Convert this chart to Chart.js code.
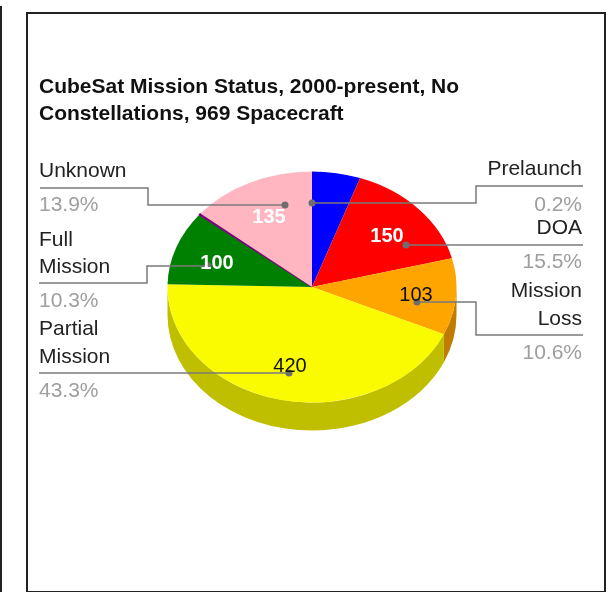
<!DOCTYPE html>
<html>
<head>
<meta charset="utf-8">
<title>CubeSat Mission Status</title>
<script src="https://cdn.jsdelivr.net/npm/chart.js@4"></script>
<style>
  html, body { margin: 0; padding: 0; background: #fff; overflow: hidden; }
  #wrap { position: relative; width: 613px; height: 592px; }
  #stub { position: absolute; left: 0; top: 6px; width: 2px; height: 586px; background: #222; }
  #frame { position: absolute; left: 26px; top: 12px; width: 576px; height: 577px; border: 2px solid #222; }
  canvas { position: absolute; left: 0; top: 0; }
</style>
</head>
<body>
<div id="wrap">
  <div id="stub"></div>
  <div id="frame"></div>
  <canvas id="missionChart" width="613" height="592"></canvas>
</div>
<script>
const categories = ['Operating', 'DOA', 'Mission Loss', 'Partial Mission', 'Full Mission', 'Prelaunch', 'Unknown'];
const spacecraft = [52, 150, 103, 420, 100, 2, 135];
const totalSpacecraft = 969;
const titleLines = ['CubeSat Mission Status, 2000-present, No', 'Constellations, 969 Spacecraft'];

const sliceColors = ['#0000ff', '#ff0000', '#ffa500', '#fafa00', '#008000', '#800080', '#ffb6c1'];
const sideColors = ['#0000bf', '#bf0000', '#c07c00', '#bfbf00', '#006000', '#600060', '#bf8891'];

const SQUASH = 115.5 / 144.5; // tilt of the pie
const DEPTH = 28;
const FONT = '"Liberation Sans", Arial, sans-serif';

// value labels inside the slices, by data index
const valueLabels = {
  1: { x: 387, y: 236, color: '#fff', bold: true },
  2: { x: 416, y: 295, color: '#111' },
  3: { x: 290, y: 366, color: '#111' },
  4: { x: 217, y: 263, color: '#fff', bold: true },
  6: { x: 269, y: 217, color: '#fff', bold: true }
};

// outside labels: text lines, percent line and the leader path ending in a dot
const callouts = [
  { index: 6, align: 'left', x: 39, lines: ['Unknown'], lineY: [171], pctY: 205,
    path: [[40, 188], [148, 188], [148, 205], [285, 205]] },
  { index: 5, align: 'right', x: 582, lines: ['Prelaunch'], lineY: [169], pctY: 205,
    path: [[583, 186], [476, 186], [476, 203], [312, 203]] },
  { index: 1, align: 'right', x: 582, lines: ['DOA'], lineY: [228], pctY: 262,
    path: [[583, 245], [406, 245]] },
  { index: 2, align: 'right', x: 582, lines: ['Mission', 'Loss'], lineY: [291, 319], pctY: 353,
    path: [[583, 335], [476, 335], [476, 302], [417, 302]] },
  { index: 4, align: 'left', x: 39, lines: ['Full', 'Mission'], lineY: [240, 267], pctY: 301,
    path: [[39, 283], [147, 283], [147, 266], [208, 266]] },
  { index: 3, align: 'left', x: 39, lines: ['Partial', 'Mission'], lineY: [329, 357], pctY: 391,
    path: [[39, 373], [289, 373]] }
];

// squashes the arcs into an ellipse and draws the rim below them
const tiltedPie = {
  id: 'tiltedPie',
  beforeDatasetsDraw(chart) {
    const ctx = chart.ctx;
    const arcs = chart.getDatasetMeta(0).data;
    const { x, y, outerRadius } = arcs[0];
    const ry = outerRadius * SQUASH;
    arcs.forEach((arc, i) => {
      // only the front half of the rim is visible
      const from = Math.max(arc.startAngle, 0);
      const to = Math.min(arc.endAngle, Math.PI);
      if (to <= from) return;
      ctx.beginPath();
      ctx.ellipse(x, y, outerRadius, ry, 0, from, to);
      ctx.ellipse(x, y + DEPTH, outerRadius, ry, 0, to, from, true);
      ctx.closePath();
      ctx.fillStyle = sideColors[i];
      ctx.fill();
    });
    ctx.save();
    ctx.translate(x, y);
    ctx.scale(1, SQUASH);
    ctx.translate(-x, -y);
  },
  afterDatasetsDraw(chart) {
    chart.ctx.restore();
  }
};

const pieLabels = {
  id: 'pieLabels',
  afterDraw(chart) {
    const ctx = chart.ctx;
    ctx.save();
    ctx.textBaseline = 'middle';

    // title
    ctx.textAlign = 'left';
    ctx.fillStyle = '#111';
    ctx.font = 'bold 21px ' + FONT;
    titleLines.forEach((line, i) => ctx.fillText(line, 39, 87 + i * 27));

    // leader lines
    callouts.forEach(c => {
      ctx.beginPath();
      c.path.forEach((p, i) => i ? ctx.lineTo(p[0], p[1]) : ctx.moveTo(p[0], p[1]));
      ctx.strokeStyle = '#7a7a7a';
      ctx.lineWidth = 1.5;
      ctx.stroke();
      const end = c.path[c.path.length - 1];
      ctx.beginPath();
      ctx.arc(end[0], end[1], 3.5, 0, Math.PI * 2);
      ctx.fillStyle = '#6e6e6e';
      ctx.fill();
    });

    // slice values
    ctx.textAlign = 'center';
    Object.keys(valueLabels).forEach(i => {
      const v = valueLabels[i];
      ctx.font = (v.bold ? 'bold ' : '') + '20px ' + FONT;
      ctx.fillStyle = v.color;
      ctx.fillText(spacecraft[i], v.x, v.y);
    });

    // names and percentages
    ctx.font = '21px ' + FONT;
    callouts.forEach(c => {
      ctx.textAlign = c.align;
      ctx.fillStyle = '#222';
      c.lines.forEach((line, i) => ctx.fillText(line, c.x, c.lineY[i]));
      ctx.fillStyle = '#9e9e9e';
      ctx.fillText((spacecraft[c.index] / totalSpacecraft * 100).toFixed(1) + '%', c.x, c.pctY);
    });
    ctx.restore();
  }
};

new Chart(document.getElementById('missionChart').getContext('2d'), {
  type: 'pie',
  data: {
    labels: categories,
    datasets: [{
      data: spacecraft,
      backgroundColor: sliceColors,
      // the Prelaunch sliver needs an edge or it vanishes
      borderColor: '#800080',
      borderWidth: [0, 0, 0, 0, 0, 1.5, 0]
    }]
  },
  options: {
    responsive: false,
    animation: false,
    layout: { padding: { left: 166.75, right: 155.75, top: 141.75, bottom: 159.75 } },
    plugins: { legend: { display: false }, tooltip: { enabled: false } }
  },
  plugins: [tiltedPie, pieLabels]
});
</script>
</body>
</html>
